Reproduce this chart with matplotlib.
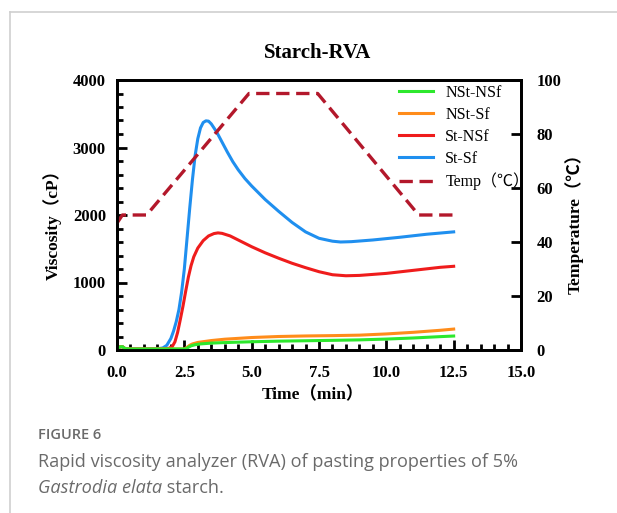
import matplotlib
matplotlib.use("Agg")
import matplotlib.pyplot as plt
from matplotlib.lines import Line2D
from matplotlib.ticker import MultipleLocator, FormatStrFormatter

# Viscosity curves (cP)
t_nst_nsf = [0, 0.1, 0.2, 0.3, 0.5, 1.5, 2.55, 2.65, 2.75, 2.9, 3.1, 3.5, 4.0, 5.0, 6.0, 7.0, 8.0, 9.0, 10.0, 11.0, 12.0, 12.5]
v_nst_nsf = [15, 45, 50, 20, 15, 15, 15, 40, 62, 78, 90, 102, 110, 122, 131, 137, 143, 150, 162, 178, 198, 207]

t_nst_sf = [0, 0.1, 0.2, 0.3, 0.5, 1.5, 2.5, 2.6, 2.7, 2.8, 3.0, 3.5, 4.0, 5.0, 6.0, 7.0, 8.0, 9.0, 10.0, 11.0, 12.0, 12.5]
v_nst_sf = [15, 45, 50, 20, 15, 15, 15, 40, 70, 90, 112, 140, 160, 185, 200, 208, 213, 220, 238, 262, 292, 310]

t_st_nsf = [0, 0.1, 0.2, 0.3, 0.5, 1.0, 1.5, 1.9, 2.05, 2.15, 2.25, 2.35, 2.45, 2.55, 2.65, 2.75, 2.85,
            3.0, 3.2, 3.4, 3.6, 3.75, 3.9, 4.2, 4.6, 5.0, 5.5, 6.0, 6.5, 7.0, 7.5, 8.0, 8.5, 9.0,
            10.0, 11.0, 12.0, 12.5]
v_st_nsf = [15, 45, 50, 20, 15, 15, 15, 20, 50, 120, 260, 450, 650, 870, 1080, 1250, 1380,
            1510, 1620, 1690, 1725, 1735, 1728, 1690, 1610, 1530, 1440, 1360, 1285, 1220, 1160, 1115, 1100, 1105,
            1135, 1180, 1225, 1240]

t_st_sf = [0, 0.1, 0.2, 0.3, 0.5, 1.0, 1.5, 1.7, 1.85, 2.0, 2.1, 2.2, 2.3, 2.4, 2.5, 2.6, 2.7, 2.8, 2.9,
           3.0, 3.1, 3.2, 3.3, 3.4, 3.5, 3.7, 3.9, 4.1, 4.3, 4.5, 4.75, 5.0, 5.5, 6.0, 6.5, 7.0, 7.5,
           8.0, 8.3, 8.7, 9.5, 10.5, 11.5, 12.5]
v_st_sf = [15, 45, 50, 20, 15, 15, 18, 30, 70, 170, 280, 420, 600, 860, 1200, 1650, 2100, 2520, 2880,
           3130, 3290, 3370, 3395, 3390, 3350, 3230, 3080, 2930, 2790, 2670, 2540, 2430, 2230, 2055, 1890, 1750, 1655,
           1612, 1600, 1605, 1630, 1670, 1715, 1750]

# Temperature profile (°C)
t_temp = [0, 0.2, 1.1, 4.9, 7.45, 11.2, 12.5]
v_temp = [47, 50, 50, 95, 95, 50, 50]

serif = ["Liberation Serif", "Noto Sans CJK SC"]
plt.rcParams["font.family"] = serif
plt.rcParams["font.weight"] = "bold"

W, H = 617, 513
fig = plt.figure(figsize=(W / 100, H / 100), dpi=100)
ax = fig.add_axes([117 / W, 163 / H, 404 / W, 270 / H])

ax.plot(t_st_sf, v_st_sf, color="#1f8fef", lw=2.2, label="St-Sf", zorder=2)
ax.plot(t_st_nsf, v_st_nsf, color="#ef1c1c", lw=2.2, label="St-NSf", zorder=2)
ax.plot(t_nst_sf, v_nst_sf, color="#ff8c1a", lw=2.2, label="NSt-Sf", zorder=3)
ax.plot(t_nst_nsf, v_nst_nsf, color="#2de82d", lw=2.2, label="NSt-NSf", zorder=4)

ax.set_xlim(0, 15)
ax.set_ylim(0, 4000)
ax.xaxis.set_major_locator(MultipleLocator(2.5))
ax.xaxis.set_minor_locator(MultipleLocator(0.5))
ax.xaxis.set_major_formatter(FormatStrFormatter("%.1f"))
ax.yaxis.set_major_locator(MultipleLocator(1000))
ax.yaxis.set_minor_locator(MultipleLocator(200))
ax.tick_params(which="both", direction="in", top=False, right=False, labelsize=12)
ax.tick_params(which="major", length=7, width=2)
ax.tick_params(which="minor", length=4, width=2)
ax.tick_params(axis="x", pad=11)
ax.tick_params(axis="y", pad=8)
for s in ax.spines.values():
    s.set_linewidth(2)

ax2 = ax.twinx()
ax2.plot(t_temp, v_temp, color="#b3182b", lw=2.4, ls=(0, (4, 2)), label="Temp（℃）")
ax2.set_ylim(0, 100)
ax2.yaxis.set_major_locator(MultipleLocator(20))
ax2.tick_params(direction="in", length=7, width=2, labelsize=12, pad=11)
for s in ax2.spines.values():
    s.set_linewidth(2)

# legend in the order of the original
h, l = ax.get_legend_handles_labels()
order = ["NSt-NSf", "NSt-Sf", "St-NSf", "St-Sf"]
handles = [h[l.index(n)] for n in order] + ax2.get_lines()[:1]
labels = order + ["Temp（℃）"]
ax2.legend(handles, labels, loc="upper left", bbox_to_anchor=(399 / W, 1 - 85 / H),
           bbox_transform=fig.transFigure, frameon=False, borderpad=0, borderaxespad=0,
           handlelength=2.1, handletextpad=0.8, labelspacing=0.37,
           prop={"family": serif, "weight": "normal", "size": 11.5})

fig.text(318 / W, 1 - 53 / H, "Starch-RVA", ha="center", va="center", fontsize=15, fontweight="bold")
fig.text(52 / W, 1 - 221 / H, "Viscosity（cP）", rotation=90, ha="center", va="center", fontsize=12.5)
fig.text(574 / W, 1 - 219 / H, "Temperature（℃）", rotation=90, ha="center", va="center", fontsize=12.5)
fig.text(313 / W, 1 - 395 / H, "Time（min）", ha="center", va="center", fontsize=12.5)

# caption card
grey = "#cfcfcf"
fig.add_artist(Line2D([10 / W, 10 / W], [0, 1 - 12 / H], transform=fig.transFigure, color=grey, lw=1.2))
fig.add_artist(Line2D([10 / W, 1], [1 - 12 / H, 1 - 12 / H], transform=fig.transFigure, color=grey, lw=1.2))

cap = {"family": "Open Sans", "color": "#6a6a6a"}
fig.text(38 / W, 1 - 435 / H, "FIGURE 6", va="center", fontsize=10.5, weight="semibold", **cap)
fig.text(38 / W, 1 - 462 / H, "Rapid viscosity analyzer (RVA) of pasting properties of 5%",
         va="center", fontsize=13.1, weight="normal", **cap)
it = fig.text(38 / W, 1 - 488 / H, "Gastrodia elata", va="center", fontsize=13.1, style="italic",
              weight="normal", **cap)
fig.canvas.draw()
bb = it.get_window_extent()
fig.text(bb.x1 / W, 1 - 488 / H, " starch.", va="center", fontsize=13.1, weight="normal", **cap)

fig.savefig("out.png", dpi=100)
